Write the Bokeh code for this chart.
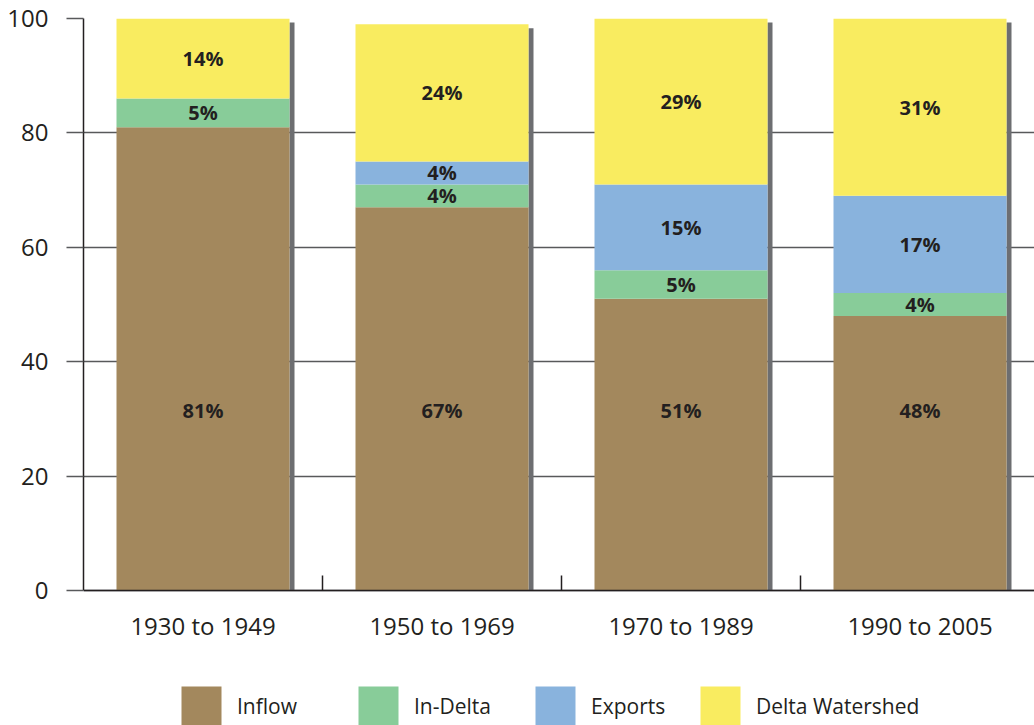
from bokeh.plotting import figure
from bokeh.models import (ColumnDataSource, Range1d, FixedTicker, Legend, LegendItem)
from bokeh.core.properties import value
from bokeh.embed import file_html
from bokeh.resources import INLINE

# Share of Delta water (%) by period and source
periods = ["1930 to 1949", "1950 to 1969", "1970 to 1989", "1990 to 2005"]
series = ["Inflow", "In-Delta", "Exports", "Delta Watershed"]
inflow = [81, 67, 51, 48]
in_delta = [5, 4, 5, 4]
exports = [0, 4, 15, 17]
delta_watershed = [14, 24, 29, 31]
y_ticks = [0, 20, 40, 60, 80, 100]

colors = ["#a3885d", "#88cc99", "#89b3dd", "#f9ec60"]
shadow_color = "#6d6e71"
grid_color = "#58595b"
text_color = "#231f20"
FONT = "Open Sans"

W, H = 1034, 725
LEFT, TOP = 83, 18
AXIS_Y = 590                       # pixel row of the zero line
slot_px = 239                      # width of one period slot in pixels
bar_w = 173 / slot_px              # bar width in x units
shadow_w = 5 / slot_px             # drop shadow on the right of each bar
inflow_label_y = 31.5              # Inflow labels share a common height

px_per_unit = (AXIS_Y - TOP) / 100
y_start = -(H - AXIS_Y) / px_per_unit   # room below zero for labels and legend

xs = list(range(1, len(periods) + 1))
values = {"Inflow": inflow, "In-Delta": in_delta,
          "Exports": exports, "Delta Watershed": delta_watershed}
source = ColumnDataSource(dict(x=xs, **values))

p = figure(width=W, height=H, output_backend="svg", toolbar_location=None,
           x_range=Range1d(0.5, 0.5 + (W - LEFT) / slot_px),
           y_range=Range1d(y_start, 100),
           min_border_left=LEFT, min_border_right=0,
           min_border_top=TOP, min_border_bottom=0)
p.outline_line_color = None
p.background_fill_color = "white"
p.border_fill_color = "white"

# shadows behind the stacks
totals = [sum(v) for v in zip(inflow, in_delta, exports, delta_watershed)]
p.vbar(x=[x + bar_w / 2 + shadow_w / 2 for x in xs], width=shadow_w,
       bottom=0, top=[t - 0.7 for t in totals],
       fill_color=shadow_color, line_color=None)

bars = p.vbar_stack(series, x="x", width=bar_w, source=source,
                    fill_color=colors, line_color=None)

# percentage labels
lx, ly, lt = [], [], []
for idx, name in enumerate(series):
    for i, v in enumerate(values[name]):
        if v <= 0:
            continue
        base = sum(values[s][i] for s in series[:idx])
        lx.append(xs[i])
        ly.append(inflow_label_y if name == "Inflow" else base + v / 2)
        lt.append(f"{v}%")
p.text(x=lx, y=ly, text=lt, text_font=value(FONT), text_font_style="bold",
       text_font_size="20px", text_color=text_color,
       text_align="center", text_baseline="middle")

# x axis sits on the zero line
xaxis = p.xaxis[0]
xaxis.fixed_location = 0
xaxis.ticker = FixedTicker(ticks=xs, minor_ticks=[x + 0.5 for x in xs[:-1]])
xaxis.major_label_overrides = {x: lab for x, lab in zip(xs, periods)}
xaxis.major_tick_line_color = None
xaxis.minor_tick_in = 15
xaxis.minor_tick_out = 0
xaxis.minor_tick_line_color = text_color
xaxis.minor_tick_line_width = 1.5
xaxis.axis_line_color = text_color
xaxis.axis_line_width = 1.5
xaxis.major_label_standoff = 12
xaxis.major_label_text_font = FONT
xaxis.major_label_text_font_size = "24px"
xaxis.major_label_text_color = text_color

yaxis = p.yaxis[0]
yaxis.bounds = (0, 100)
yaxis.ticker = FixedTicker(ticks=y_ticks, minor_ticks=[])
yaxis.major_tick_in = 0
yaxis.major_tick_out = 17
yaxis.major_tick_line_color = grid_color
yaxis.major_tick_line_width = 1.5
yaxis.axis_line_color = text_color
yaxis.axis_line_width = 1.5
yaxis.major_label_standoff = 18
yaxis.major_label_text_font = FONT
yaxis.major_label_text_font_size = "24px"
yaxis.major_label_text_color = text_color

p.xgrid.grid_line_color = None
p.ygrid.grid_line_color = grid_color
p.ygrid.grid_line_width = 1.5

# legend entries laid out along the bottom
legend_x = [93, 270, 447, 612]
for name, r, lxpos in zip(series, bars, legend_x):
    leg = Legend(items=[LegendItem(label=name, renderers=[r])],
                 location=(lxpos, -5), orientation="horizontal",
                 glyph_width=50, glyph_height=49, label_standoff=11,
                 label_text_font=FONT, label_text_font_size="21px",
                 label_text_color=text_color, label_text_baseline="middle",
                 padding=0, margin=0, spacing=0,
                 border_line_color=None, background_fill_alpha=0)
    p.add_layout(leg, "center")

open("out.html", "w").write(file_html(p, INLINE))
